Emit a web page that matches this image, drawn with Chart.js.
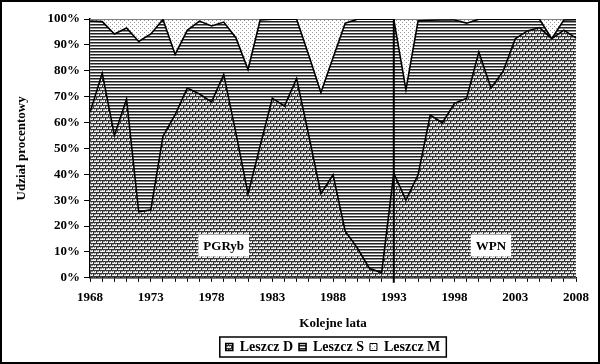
<!DOCTYPE html>
<html>
<head>
<meta charset="utf-8">
<script src="https://cdn.jsdelivr.net/npm/chart.js@4/dist/chart.umd.min.js"></script>
<style>
  body { margin: 0; background: #fff; }
  #wrap { width: 600px; height: 364px; position: relative; }
</style>
</head>
<body>
<div id="wrap"><canvas id="chart" width="600" height="364"></canvas></div>
<script>
// Years on the x axis
const years = [];
for (let y = 1968; y <= 2008; y++) years.push(String(y));

// Share of the D group (bottom area)
const leszczD = [64, 79, 55, 69, 25.5, 26.3, 54.7, 63, 73.3, 71, 68, 78.5, 56, 32.4, 51,
                 69.4, 66.4, 77, 55, 32.5, 39.8, 18, 11.5, 3.6, 2, 40.4, 30, 39.8, 62.9,
                 59.9, 67.4, 69.4, 87.2, 73.3, 79.8, 92.4, 95.4, 96.7, 92.4, 95.7, 92.6];
// Top of the S group (D + S)
const topDS = [99.2, 99, 94.2, 96.5, 91.3, 94.2, 99.8, 86.3, 95.6, 99.2, 97.3, 98.8, 92.8, 80.5, 99.6,
               99.9, 99.9, 99.9, 86, 71.6, 85, 98.4, 99.9, 99.9, 99.9, 99.9, 72.7, 99.3, 99.5,
               99.6, 99.6, 98.4, 99.9, 99.9, 99.9, 99.9, 99.9, 99.9, 92.4, 99.6, 99.7];
const leszczS = topDS.map((t, i) => +(t - leszczD[i]).toFixed(1));
const leszczM = topDS.map(t => +(100 - t).toFixed(1));

const seriesNames = ['Leszcz D', 'Leszcz S', 'Leszcz M'];
const yTicks = [0, 10, 20, 30, 40, 50, 60, 70, 80, 90, 100];
const dividerYear = '1993';
const periodLabels = [
  { text: 'PGRyb', year: 1979, pct: 12.5 },
  { text: 'WPN', year: 2001, pct: 12.5 }
];

const FONT = 'Liberation Serif, Times New Roman, serif';

// Fill patterns
function makePattern(w, h, draw) {
  const c = document.createElement('canvas');
  c.width = w; c.height = h;
  const g = c.getContext('2d');
  draw(g);
  return g.createPattern(c, 'repeat');
}
const ctx = document.getElementById('chart').getContext('2d');

const brick = makePattern(6, 6, g => {
  g.fillStyle = '#eeeeee'; g.fillRect(0, 0, 6, 6);
  g.fillStyle = '#333';
  g.fillRect(0, 0, 6, 1);
  g.fillRect(0, 1, 1, 2);
  g.fillRect(0, 3, 6, 1);
  g.fillRect(3, 4, 1, 2);
  g.fillStyle = '#8a8a8a';
  g.fillRect(1, 1, 2, 1); g.fillRect(4, 4, 2, 1);
  g.fillRect(4, 1, 1, 1); g.fillRect(1, 4, 1, 1);
});
const stripes = makePattern(3, 3, g => {
  g.fillStyle = '#ffffff'; g.fillRect(0, 0, 3, 3);
  g.fillStyle = '#222'; g.fillRect(0, 0, 3, 1);
  g.fillStyle = '#8c8c8c'; g.fillRect(0, 1, 3, 1);
});
const dots = makePattern(4, 4, g => {
  g.fillStyle = '#ffffff'; g.fillRect(0, 0, 4, 4);
  g.fillStyle = '#9a9a9a';
  g.fillRect(0, 0, 1, 1); g.fillRect(2, 2, 1, 1);
});

const framePlugin = {
  id: 'frame',
  afterDatasetsDraw(chart) {
    const c = chart.ctx, x = chart.scales.x, y = chart.scales.y;
    const area = chart.chartArea;
    // divider between periods
    const px = x.getPixelForValue(years.indexOf(dividerYear));
    c.save();
    c.strokeStyle = '#000'; c.lineWidth = 2;
    c.beginPath(); c.moveTo(px, area.top); c.lineTo(px, area.bottom + 5); c.stroke();
    // period labels
    c.font = 'bold 13px ' + FONT;
    c.textAlign = 'center'; c.textBaseline = 'middle';
    periodLabels.forEach(l => {
      const lx = x.getPixelForValue(years.indexOf(String(l.year)));
      const ly = y.getPixelForValue(l.pct);
      const w = c.measureText(l.text).width + 10;
      c.fillStyle = '#fff';
      c.fillRect(lx - w / 2, ly - 11, w, 22);
      c.fillStyle = '#000';
      c.fillText(l.text, lx, ly + 1);
    });
    c.restore();
  },
  afterDraw(chart) {
    const c = chart.ctx;
    c.save();
    // legend box
    const boxes = chart.legend.legendHitBoxes;
    if (boxes && boxes.length) {
      const l = Math.min(...boxes.map(b => b.left)) - 6;
      const r = Math.max(...boxes.map(b => b.left + b.width)) + 6;
      const t = boxes[0].top - 3;
      const b = boxes[0].top + boxes[0].height + 3;
      c.strokeStyle = '#000'; c.lineWidth = 1.5;
      c.strokeRect(l, t, r - l, b - t);
    }
    // outer frame
    c.lineWidth = 2;
    c.strokeRect(1, 1, chart.width - 2, chart.height - 2);
    c.restore();
  }
};

new Chart(ctx, {
  type: 'line',
  data: {
    labels: years,
    datasets: [
      { label: seriesNames[0], data: leszczD, backgroundColor: brick, borderColor: '#000',
        borderWidth: 1.6, fill: 'origin' },
      { label: seriesNames[1], data: leszczS, backgroundColor: stripes, borderColor: '#000',
        borderWidth: 1.6, fill: '-1' },
      { label: seriesNames[2], data: leszczM, backgroundColor: dots, borderColor: '#000',
        borderWidth: 1, fill: '-1' }
    ]
  },
  options: {
    responsive: false,
    animation: false,
    elements: { point: { radius: 0 }, line: { tension: 0 } },
    layout: { padding: { left: 10, right: 24, top: 19, bottom: 0 } },
    plugins: {
      tooltip: { enabled: false },
      legend: {
        position: 'bottom',
        fullSize: false,
        labels: {
          font: { family: FONT, size: 14, weight: 'bold' },
          color: '#000',
          boxWidth: 7, boxHeight: 7,
          padding: 6
        }
      }
    },
    scales: {
      x: {
        offset: false,
        grid: { drawOnChartArea: false, tickLength: 4, color: '#000' },
        border: { color: '#000', width: 1.5 },
        ticks: {
          autoSkip: false, maxRotation: 0, color: '#000',
          font: { family: FONT, size: 13, weight: 'bold' },
          padding: 8,
          callback: (v, i) => (i % 5 === 0 ? years[i] : '')
        },
        title: { display: true, text: 'Kolejne lata', color: '#000',
                 font: { family: FONT, size: 13, weight: 'bold' }, padding: { top: 2, bottom: 3 } }
      },
      y: {
        stacked: true, min: 0, max: 100,
        afterBuildTicks: s => { s.ticks = yTicks.map(v => ({ value: v })); },
        grid: { drawOnChartArea: false, tickLength: 6, color: '#000' },
        border: { color: '#000', width: 1.5 },
        ticks: {
          color: '#000', padding: 4,
          font: { family: FONT, size: 13, weight: 'bold' },
          callback: v => v + '%'
        },
        title: { display: true, text: 'Udział procentowy', color: '#000',
                 font: { family: FONT, size: 13, weight: 'bold' }, padding: { bottom: 14 } }
      }
    }
  },
  plugins: [framePlugin]
});
</script>
</body>
</html>
